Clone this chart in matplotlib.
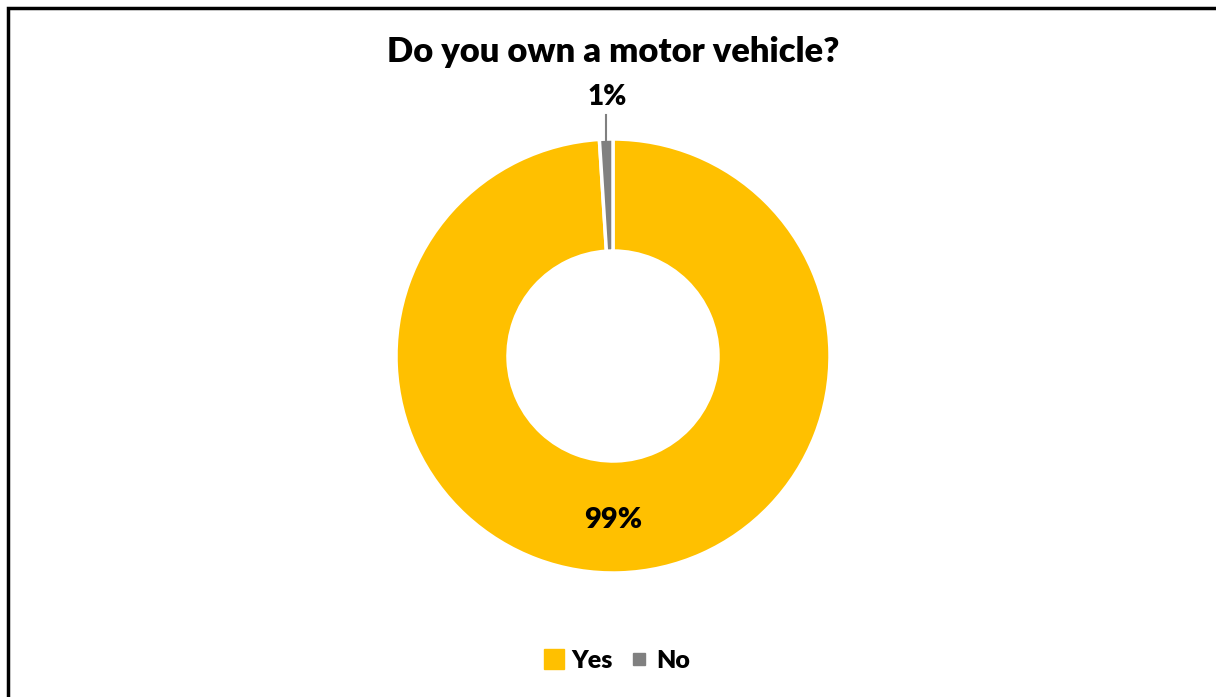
import matplotlib.pyplot as plt
import numpy as np

# survey answers
labels = ['Yes', 'No']
shares = [99, 1]
colors = ['#FFC000', '#808080']

W, H = 1216, 697
fig = plt.figure(figsize=(W / 100, H / 100), dpi=100)
ax = fig.add_axes([0, 0, 1, 1])

cx, cy = 613, H - 356
r_out = 217
wedges, _ = ax.pie(shares, colors=colors, startangle=90, counterclock=False,
                   center=(cx, cy), radius=r_out, frame=True,
                   wedgeprops=dict(width=112, edgecolor='white', linewidth=2.5))
ax.set_xlim(0, W)
ax.set_ylim(0, H)
ax.set_aspect('equal')
ax.axis('off')

font = dict(family='Lato', fontweight='heavy')

# percentage labels
ax.text(cx, H - 520, f'{shares[0]}%', ha='center', va='center', fontsize=21, **font)
w = wedges[1]
mid = np.deg2rad((w.theta1 + w.theta2) / 2)
px, py = cx + r_out * np.cos(mid), cy + r_out * np.sin(mid)
ax.plot([px, px], [py - 8, H - 115], color='#808080', lw=1.5)
ax.text(px + 1, H - 97, f'{shares[1]}%', ha='center', va='center', fontsize=20, **font)

# title
ax.text(cx, H - 52, 'Do you own a motor vehicle?', ha='center', va='center',
        fontsize=24.8, **font)

# legend
handles = [plt.Line2D([], [], ls='', marker='s', markersize=14, color=colors[0]),
           plt.Line2D([], [], ls='', marker='s', markersize=8, color=colors[1])]
leg = ax.legend(handles, labels, loc='center', bbox_to_anchor=(617 / W, 1 - 661 / H),
                ncol=2, frameon=False, handlelength=0.8, handletextpad=0.3,
                columnspacing=0.65, prop=dict(family='Lato', weight='heavy', size=18))

# chart frame
ax.plot([7.5, 7.5, W], [0, H - 7.5, H - 7.5], color='black', lw=2.5,
        solid_joinstyle='miter', clip_on=False)

fig.savefig('out.png', dpi=100)
